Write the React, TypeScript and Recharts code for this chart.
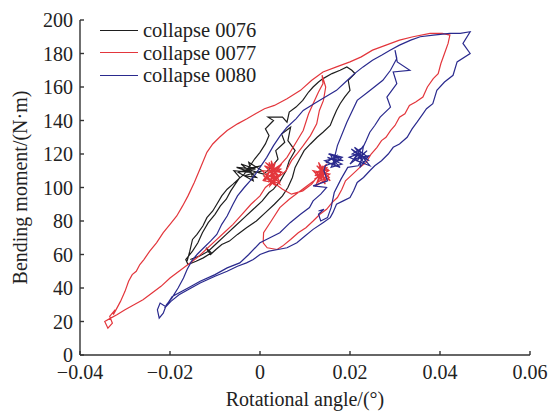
import { LineChart, Line, XAxis, YAxis, Legend } from 'recharts';

type Pt = [number, number];

const FONT = '"Liberation Serif", "DejaVu Serif", serif';

// rotational angle (deg), bending moment (N·m), in drawing order
const collapse0076: Pt[] = [
  [-0.0162, 56], [-0.0156, 62], [-0.015, 69], [-0.014, 72], [-0.0127, 77],
  [-0.0118, 82], [-0.0105, 86], [-0.0096, 90], [-0.0085, 95], [-0.0073, 99],
  [-0.006, 102], [-0.0048, 105], [-0.0035, 108], [-0.0022, 113], [-0.0012, 117],
  [0.0, 121], [0.0012, 126], [0.002, 131], [0.0012, 135], [0.003, 140],
  [0.0018, 142], [0.005, 142], [0.006, 139], [0.0065, 145], [0.008, 148],
  [0.0095, 152], [0.0108, 157], [0.0118, 160], [0.013, 163], [0.014, 165],
  [0.016, 168], [0.0178, 170], [0.0193, 172], [0.0204, 170], [0.0211, 168],
  [0.0196, 164], [0.02, 158], [0.0188, 154], [0.0178, 150], [0.017, 146],
  [0.0162, 141], [0.0156, 137], [0.014, 133], [0.0127, 130], [0.0112, 126],
  [0.0098, 122], [0.0088, 117], [0.0078, 112], [0.0072, 106], [0.0062, 100],
  [0.005, 95], [0.0032, 90], [0.0012, 85], [-0.0008, 80], [-0.003, 76],
  [-0.005, 72], [-0.0068, 68], [-0.0085, 66], [-0.0098, 63], [-0.011, 60],
  [-0.012, 64], [-0.0108, 61], [-0.0126, 58], [-0.0142, 56], [-0.016, 54],
  [-0.0165, 57], [-0.015, 62], [-0.0138, 67], [-0.0128, 73], [-0.0115, 79],
  [-0.01, 84], [-0.0088, 89], [-0.0075, 93], [-0.0065, 98], [-0.0055, 102],
  [-0.0045, 106], [-0.0058, 110], [-0.002, 109], [-0.0052, 112], [-0.001, 111],
  [-0.0042, 114], [-0.0008, 106], [-0.0035, 107], [0.0005, 110], [-0.0025, 115],
  [-0.0015, 104], [-0.0048, 109], [0.0002, 113], [-0.003, 111],
  [0.0008, 108], [0.0025, 112], [0.004, 117], [0.0035, 122], [0.0055, 127],
  [0.0048, 132], [0.0068, 136], [0.0062, 128], [0.0078, 122], [0.0065, 116],
  [0.0058, 110], [0.0045, 104], [0.003, 99], [0.002, 97], [0.0005, 92],
  [-0.0015, 87], [-0.0035, 82], [-0.0055, 77], [-0.0075, 72], [-0.0095, 67],
  [-0.0115, 62], [-0.0135, 59], [-0.0155, 57],
];

const collapse0077: Pt[] = [
  [0.003, 104], [0.0012, 100], [0.0, 95], [-0.002, 90], [-0.004, 84],
  [-0.006, 78], [-0.008, 73], [-0.01, 68], [-0.012, 63], [-0.014, 58],
  [-0.016, 54], [-0.018, 50], [-0.02, 46], [-0.022, 41], [-0.024, 37],
  [-0.026, 33], [-0.028, 30], [-0.03, 27], [-0.0318, 24], [-0.0332, 22],
  [-0.0345, 20], [-0.0338, 16], [-0.0328, 19], [-0.0334, 23], [-0.0322, 27],
  [-0.0326, 24], [-0.0318, 28], [-0.031, 32], [-0.03, 38], [-0.0292, 44],
  [-0.0284, 48], [-0.0275, 50], [-0.0267, 54], [-0.0258, 57], [-0.0245, 62],
  [-0.023, 67], [-0.0215, 73], [-0.02, 78], [-0.0185, 83], [-0.0172, 89],
  [-0.016, 95], [-0.0146, 103], [-0.0132, 112], [-0.0118, 121], [-0.0105, 126],
  [-0.009, 130], [-0.0073, 134], [-0.005, 138], [-0.0029, 141], [-0.001, 144],
  [0.001, 147], [0.0032, 149], [0.006, 153], [0.009, 158], [0.0115, 164],
  [0.014, 169], [0.017, 172], [0.02, 175], [0.0225, 178], [0.025, 182],
  [0.028, 185], [0.031, 188], [0.034, 190], [0.0378, 192], [0.0405, 192],
  [0.0422, 191], [0.0418, 186], [0.041, 180], [0.0402, 174], [0.0396, 168],
  [0.0385, 165], [0.0372, 160], [0.0362, 154], [0.0346, 151], [0.0332, 149],
  [0.0322, 144], [0.031, 142], [0.03, 137], [0.029, 134], [0.028, 130],
  [0.027, 128], [0.026, 124], [0.0247, 120], [0.0236, 115], [0.0222, 112],
  [0.0206, 108], [0.019, 104], [0.0182, 99], [0.0172, 94], [0.016, 91],
  [0.0148, 87], [0.0133, 84], [0.0118, 80], [0.0102, 76], [0.0085, 73],
  [0.0068, 69], [0.005, 65], [0.0038, 63], [0.0016, 64], [0.0007, 67],
  [0.0008, 73], [0.0025, 80], [0.0044, 88], [0.0065, 93], [0.0085, 97],
  [0.0105, 101], [0.012, 104], [0.015, 112], [0.0125, 109], [0.0156, 104],
  [0.013, 115], [0.0145, 102], [0.0118, 110], [0.0155, 108], [0.0128, 103],
  [0.0148, 114], [0.0122, 107], [0.0152, 111], [0.0135, 105], [0.014, 113],
  [0.0124, 101], [0.0154, 106], [0.0126, 113], [0.0142, 108], [0.0121, 105],
  [0.0153, 110], [0.0132, 112], [0.0146, 104], [0.0127, 107], [0.0138, 110],
  [0.0115, 102], [0.0095, 98], [0.007, 96], [0.005, 99], [0.003, 103],
  [0.001, 104], [0.004, 112], [0.0015, 108], [0.0045, 103], [0.002, 115],
  [0.0035, 101], [0.0005, 110], [0.005, 109], [0.001, 113], [0.004, 105],
  [0.0025, 116], [0.003, 102], [0.0008, 107], [0.0048, 114], [0.0018, 103],
  [0.0038, 110], [0.0012, 115], [0.0042, 107], [0.0022, 101], [0.0032, 113],
  [0.0006, 104], [0.0046, 111], [0.0016, 112], [0.0036, 104], [0.0026, 109],
  [0.0044, 102], [0.0014, 106], [0.0034, 115], [0.0024, 105], [0.0046, 108],
  [0.004, 112], [0.006, 118], [0.0078, 126], [0.0096, 134], [0.0108, 144],
  [0.0118, 150], [0.013, 157], [0.014, 162], [0.0138, 167], [0.0146, 160],
  [0.0141, 152], [0.0132, 146], [0.0126, 138], [0.0112, 131], [0.0096, 125],
  [0.0082, 120], [0.007, 116], [0.0058, 110], [0.004, 106],
];

const collapse0080: Pt[] = [
  [-0.021, 29], [-0.0222, 31], [-0.0228, 27], [-0.0224, 22], [-0.0215, 25],
  [-0.0208, 30], [-0.0196, 34], [-0.0182, 40], [-0.017, 46], [-0.0162, 51],
  [-0.0152, 56], [-0.014, 60], [-0.0125, 64], [-0.011, 68], [-0.0096, 72],
  [-0.0085, 78], [-0.0073, 83], [-0.006, 90], [-0.005, 95], [-0.0035, 100],
  [-0.0022, 104], [-0.001, 108], [0.0, 112], [0.0015, 118], [0.003, 125],
  [0.0045, 131], [0.006, 136], [0.008, 141], [0.0096, 146], [0.012, 150],
  [0.0145, 154], [0.017, 158], [0.019, 163], [0.021, 168], [0.0229, 172],
  [0.025, 176], [0.027, 179], [0.0289, 182], [0.031, 185], [0.0335, 188],
  [0.0356, 190], [0.0385, 191], [0.0422, 192], [0.0445, 192], [0.0467, 193],
  [0.0451, 186], [0.0467, 180], [0.0438, 175], [0.0429, 167], [0.041, 163],
  [0.0393, 158], [0.0384, 150], [0.037, 147], [0.0362, 144], [0.0349, 139],
  [0.0338, 135], [0.0327, 130], [0.031, 126], [0.0296, 124], [0.0285, 120],
  [0.027, 116], [0.0255, 113], [0.0244, 110], [0.023, 106], [0.0216, 103],
  [0.0208, 98], [0.02, 94], [0.0185, 92], [0.017, 90], [0.0162, 85],
  [0.0156, 82], [0.014, 79], [0.0118, 75], [0.01, 71], [0.0082, 67],
  [0.006, 64], [0.004, 63], [0.002, 62], [0.0, 60], [-0.0015, 57],
  [-0.003, 55], [-0.005, 53], [-0.0073, 50], [-0.01, 47], [-0.0133, 43],
  [-0.016, 39], [-0.018, 36], [-0.0198, 32], [-0.0212, 28], [-0.0195, 35],
  [-0.016, 40], [-0.0133, 44], [-0.01, 48], [-0.0073, 52], [-0.0045, 55],
  [-0.0025, 60], [0.0, 67], [0.0022, 70], [0.0044, 73], [0.0067, 79],
  [0.009, 84], [0.011, 88], [0.0118, 92], [0.0135, 96], [0.0148, 100],
  [0.0118, 101], [0.015, 104], [0.0142, 110], [0.0145, 113], [0.0175, 116],
  [0.015, 118], [0.0182, 114], [0.0158, 112], [0.017, 119], [0.0148, 115],
  [0.0178, 112], [0.016, 117], [0.0185, 116], [0.0152, 120], [0.0176, 118],
  [0.0144, 116], [0.0168, 113], [0.0156, 120], [0.0183, 118], [0.0162, 114],
  [0.0172, 125], [0.0193, 139], [0.0216, 152], [0.024, 157], [0.0273, 164],
  [0.029, 170], [0.0304, 177], [0.03, 182], [0.0305, 175], [0.0333, 170],
  [0.0296, 169], [0.0304, 162], [0.0282, 154], [0.029, 148], [0.0267, 142],
  [0.0255, 137], [0.0244, 133], [0.0236, 128], [0.0229, 124], [0.0205, 120],
  [0.024, 118], [0.021, 124], [0.0244, 113], [0.0215, 116], [0.0238, 122],
  [0.02, 114], [0.023, 125], [0.0222, 112], [0.0242, 119], [0.0208, 117],
  [0.0226, 121], [0.0198, 118], [0.0234, 114], [0.0212, 121], [0.0243, 116],
  [0.0203, 123], [0.0228, 117], [0.0218, 113], [0.0195, 112], [0.018, 105],
  [0.0165, 97], [0.0158, 88], [0.015, 82], [0.0135, 80], [0.013, 84],
  [0.0142, 87], [0.013, 86],
];

const SERIES_NAMES = ['collapse 0076', 'collapse 0077', 'collapse 0080'];
const SERIES_COLORS = ['#1e1e1e', '#e3363c', '#2a2a8e'];
const SERIES_DATA = [collapse0076, collapse0077, collapse0080];

const X_TICKS = [-0.04, -0.02, 0, 0.02, 0.04, 0.06];
const Y_TICKS = [0, 20, 40, 60, 80, 100, 120, 140, 160, 180, 200];

const toRows = (pts: Pt[]) => pts.map(([angle, moment]) => ({ angle, moment }));

const fmtAngle = (v: number) => (v === 0 ? '0' : v.toFixed(2).replace('-', '\u2212'));

const tickStyle = { fontFamily: FONT, fontSize: 20, fill: '#222' };

function LegendBox() {
  return (
    <div style={{ fontFamily: FONT, fontSize: 20.5, lineHeight: '22.5px', color: '#222' }}>
      {SERIES_NAMES.map((name, i) => (
        <div key={name} style={{ display: 'flex', alignItems: 'center' }}>
          <span
            style={{
              width: 38,
              height: 0,
              borderTop: `1.4px solid ${SERIES_COLORS[i]}`,
              marginRight: 5,
            }}
          />
          <span>{name}</span>
        </div>
      ))}
    </div>
  );
}

export default function App() {
  return (
    <div style={{ position: 'absolute', left: 0, top: 0, background: '#fff' }}>
      <LineChart width={556} height={415} margin={{ top: 20, right: 26, bottom: 0, left: 0 }}>
        <XAxis
          dataKey="angle"
          type="number"
          domain={[-0.04, 0.06]}
          ticks={X_TICKS}
          tickFormatter={fmtAngle}
          allowDataOverflow
          height={60}
          tickSize={-4}
          tickMargin={14}
          tick={tickStyle}
          stroke="#333"
          strokeWidth={1.4}
          label={{
            value: 'Rotational angle/(°)',
            position: 'insideBottom',
            offset: 9,
            style: { fontFamily: FONT, fontSize: 20, fill: '#222' },
          }}
        />
        <YAxis
          dataKey="moment"
          type="number"
          domain={[0, 200]}
          ticks={Y_TICKS}
          width={80}
          tickSize={-4}
          tickMargin={11}
          tick={tickStyle}
          stroke="#333"
          strokeWidth={1.4}
          label={{
            value: 'Bending moment/(N·m)',
            angle: -90,
            position: 'center',
            dx: -20,
            style: { fontFamily: FONT, fontSize: 20, fill: '#222', textAnchor: 'middle' },
          }}
        />
        <Legend
          layout="vertical"
          align="center"
          verticalAlign="middle"
          content={() => <LegendBox />}
          wrapperStyle={{ position: 'absolute', left: 100, top: 19, width: 'auto' }}
        />
        {SERIES_DATA.map((pts, i) => (
          <Line
            key={SERIES_NAMES[i]}
            name={SERIES_NAMES[i]}
            data={toRows(pts)}
            dataKey="moment"
            type="linear"
            stroke={SERIES_COLORS[i]}
            strokeWidth={1.2}
            dot={false}
            activeDot={false}
            isAnimationActive={false}
          />
        ))}
      </LineChart>
    </div>
  );
}
